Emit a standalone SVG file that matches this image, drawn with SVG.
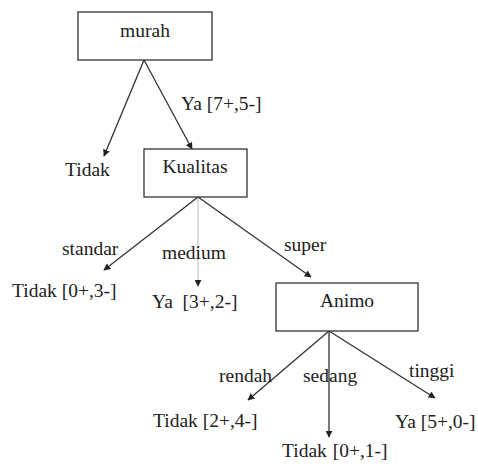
<svg xmlns="http://www.w3.org/2000/svg" width="478" height="464" viewBox="0 0 478 464">
<style>
.box{fill:#fff;stroke:#333;stroke-width:1.3}
.t{font-family:"Liberation Serif","Times New Roman",serif;font-size:19.5px;fill:#222}
.c{fill:none;stroke:#333;stroke-width:1.3}
.g{fill:none;stroke:#bbb;stroke-width:1}
</style>
<defs>
<marker id="ah" viewBox="0 0 10 10" refX="9" refY="5" markerWidth="7" markerHeight="7" markerUnits="userSpaceOnUse" orient="auto">
<path d="M0,0 L10,5 L0,10 z" fill="#222"/>
</marker>
</defs>
<rect width="478" height="464" fill="#fff"/>
<g id="connectors">
<line class="c" x1="144" y1="60" x2="104" y2="156" marker-end="url(#ah)"/>
<line class="c" x1="144" y1="60" x2="192" y2="149" marker-end="url(#ah)"/>
<line class="c" x1="198" y1="197" x2="104" y2="270" marker-end="url(#ah)"/>
<line class="g" x1="198" y1="197" x2="198" y2="286" marker-end="url(#ah)"/>
<line class="c" x1="198" y1="197" x2="311" y2="277" marker-end="url(#ah)"/>
<line class="c" x1="329" y1="331" x2="248" y2="400" marker-end="url(#ah)"/>
<line class="c" x1="329" y1="331" x2="329" y2="437" marker-end="url(#ah)"/>
<line class="c" x1="329" y1="331" x2="435" y2="398" marker-end="url(#ah)"/>
<text class="t" x="181" y="110">Ya [7+,5-]</text>
<text class="t" x="62" y="255">standar</text>
<text class="t" x="162" y="259">medium</text>
<text class="t" x="284" y="251">super</text>
<text class="t" x="219" y="382">rendah</text>
<text class="t" x="303" y="382">sedang</text>
<text class="t" x="409" y="377">tinggi</text>
</g>
<g id="murah">
<rect class="box" x="78" y="12" width="134" height="48"/>
<text class="t" x="145" y="37" text-anchor="middle">murah</text>
</g>
<g id="tidak1">
<text class="t" x="65" y="176">Tidak</text>
</g>
<g id="kualitas">
<rect class="box" x="144" y="149" width="103" height="48"/>
<text class="t" x="195" y="173" text-anchor="middle">Kualitas</text>
</g>
<g id="tidak2">
<text class="t" x="12" y="297">Tidak [0+,3-]</text>
</g>
<g id="ya1">
<text class="t" x="152" y="308" xml:space="preserve">Ya  [3+,2-]</text>
</g>
<g id="animo">
<rect class="box" x="276" y="283" width="142" height="48"/>
<text class="t" x="347" y="307" text-anchor="middle">Animo</text>
</g>
<g id="tidak3">
<text class="t" x="153" y="427">Tidak [2+,4-]</text>
</g>
<g id="tidak4">
<text class="t" x="282" y="457">Tidak <tspan dx="1">[0+,1-]</tspan></text>
</g>
<g id="ya2">
<text class="t" x="395" y="428">Ya [5+,0-]</text>
</g>
</svg>
